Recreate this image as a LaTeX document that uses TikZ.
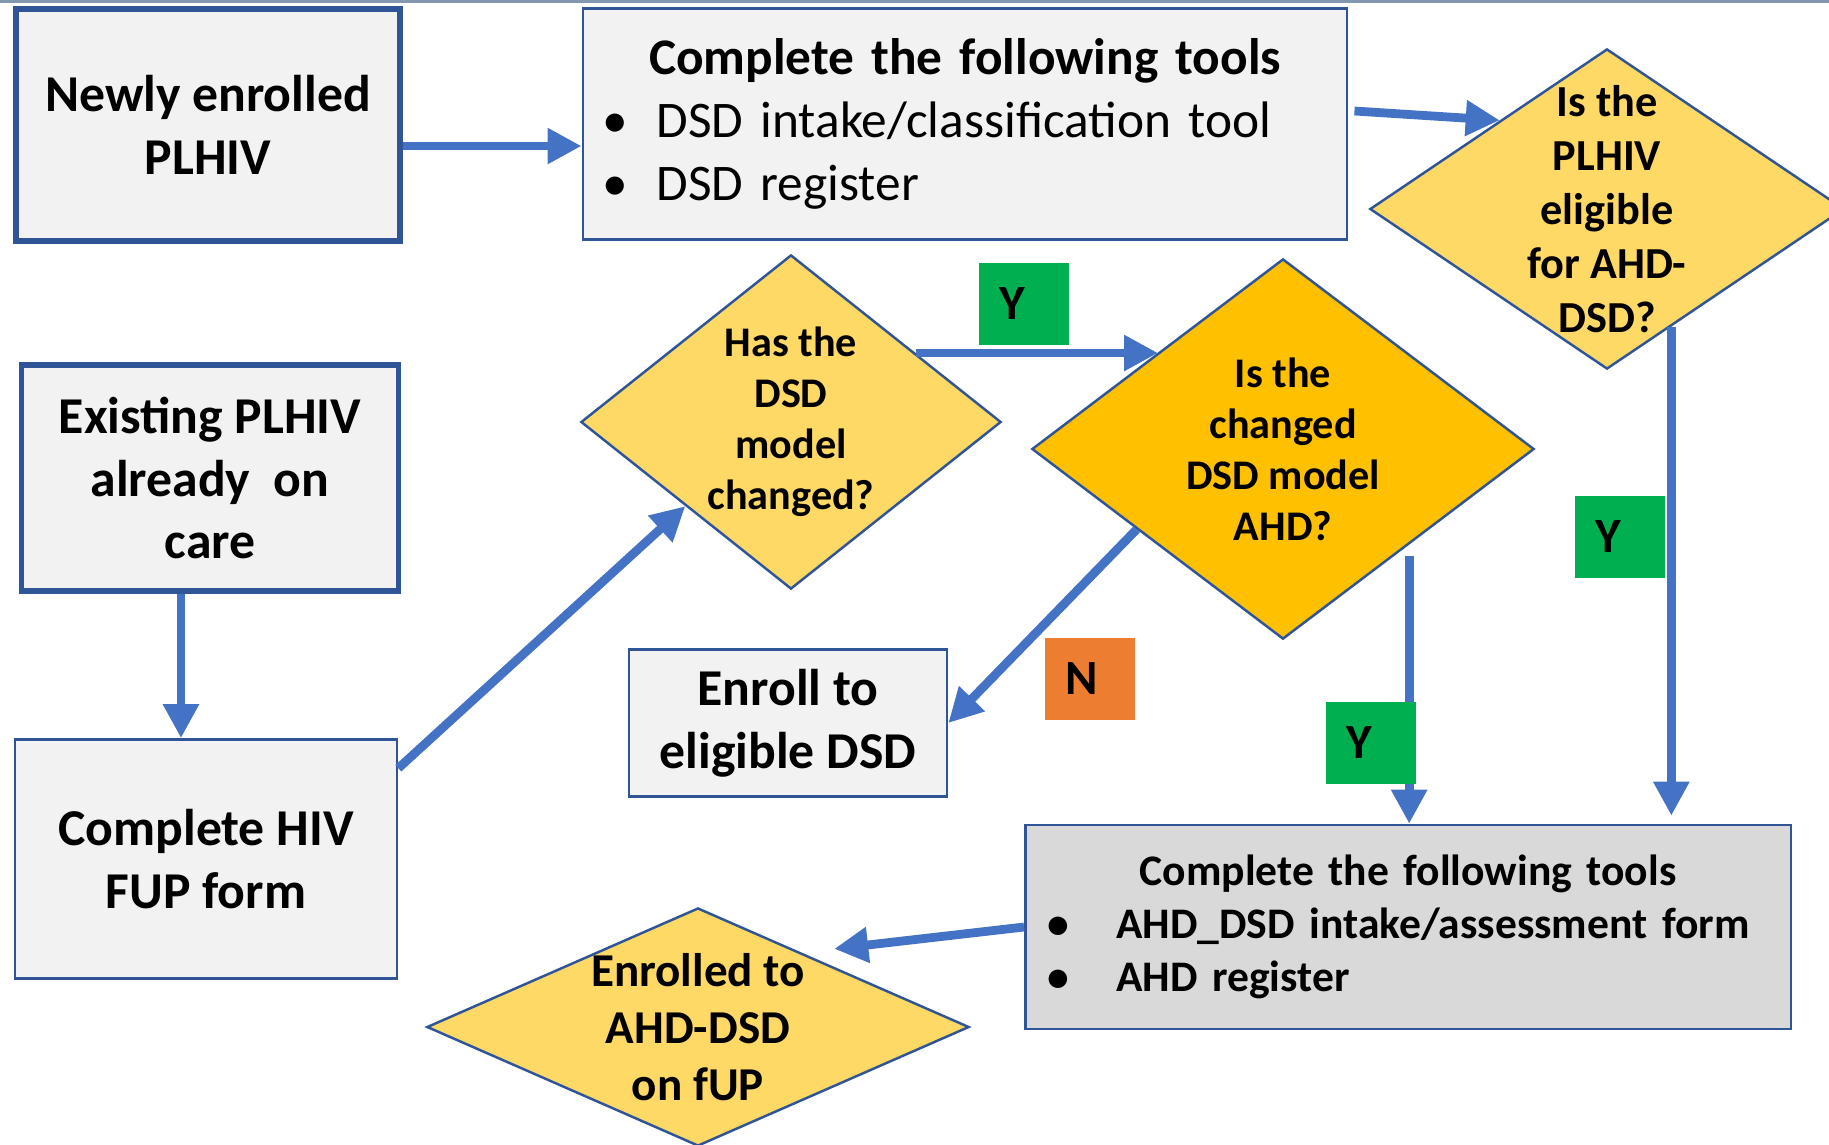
\documentclass[tikz,border=0pt]{standalone}
\usepackage{fontspec}
\setmainfont{Carlito}
\usetikzlibrary{shapes.geometric,arrows.meta,calc}

\definecolor{boxline}{HTML}{2F5597}
\definecolor{flowblue}{HTML}{4472C4}
\definecolor{boxfill}{HTML}{F2F2F2}
\definecolor{greyfill}{HTML}{D9D9D9}
\definecolor{lightq}{HTML}{FFD966}
\definecolor{darkq}{HTML}{FFC000}
\definecolor{yesgreen}{HTML}{00B050}
\definecolor{noorange}{HTML}{ED7D31}
\definecolor{topline}{HTML}{8497B0}

\begin{document}
\begin{tikzpicture}[x=0.01cm, y=-0.01cm,
  start box/.style={draw=boxline, line width=1.6pt, fill=boxfill, inner sep=0pt, align=center, font=\bfseries\fontsize{14.7}{17.9}\selectfont},
  plain box/.style={draw=boxline, line width=0.7pt, fill=boxfill, inner sep=0pt, align=center, font=\bfseries\fontsize{14.7}{17.9}\selectfont},
  ques/.style={diamond, draw=boxline, line width=0.7pt, inner sep=0pt},
  ques text/.style={align=center, inner sep=0pt, font=\bfseries\fontsize{12}{14.5}\selectfont},
  tag/.style={minimum width=0.9cm, minimum height=0.82cm, inner sep=0pt, font=\bfseries\fontsize{14}{17}\selectfont},
  flow/.style={draw=flowblue, line width=2.5pt, -{Triangle[length=0.34cm,width=0.34cm]}}]

  \useasboundingbox (0,0) rectangle (1829,1144);
  \fill[topline] (0,0) rectangle (1829,3);

  % boxes
  \node[start box, minimum width=3.84cm, minimum height=2.32cm] (newly) at (208,125) {Newly enrolled\\PLHIV};
  \node[plain box, minimum width=7.64cm, minimum height=2.31cm, text width=7.64cm, align=left,
        font=\fontsize{14.6}{17.9}\selectfont] (tools) at (965,124)
    {\noindent\makebox[\hsize][c]{\bfseries Complete the following tools}\\
     \hspace*{0.2cm}\makebox[0.54cm][l]{\textbullet}DSD intake/classification tool\\
     \hspace*{0.2cm}\makebox[0.54cm][l]{\textbullet}DSD register};
  \node[start box, minimum width=3.77cm, minimum height=2.26cm] (exist) at (210,478) {Existing PLHIV\\already~~on\\care};
  \node[plain box, minimum width=3.82cm, minimum height=2.39cm] (fup) at (206,859) {Complete HIV\\FUP form};
  \node[plain box, minimum width=3.18cm, minimum height=1.47cm] (enroll) at (788,723) {Enroll to\\eligible DSD};
  \node[plain box, fill=greyfill, minimum width=7.65cm, minimum height=2.04cm, text width=7.65cm, align=left,
        font=\bfseries\fontsize{12.4}{15}\selectfont] (ahdtools) at (1408,927)
    {\noindent\makebox[\hsize][c]{Complete the following tools}\\
     \hspace*{0.22cm}\makebox[0.69cm][l]{\textbullet}AHD\_DSD intake/assessment form\\
     \hspace*{0.22cm}\makebox[0.69cm][l]{\textbullet}AHD register};

  % questions
  \node[ques, fill=lightq, minimum width=4.74cm, minimum height=3.2cm] (elig) at (1607,209) {};
  \node[ques text, font=\bfseries\fontsize{12.6}{15.3}\selectfont] (eligt) at (elig) {Is the\\PLHIV\\eligible\\for AHD-\\DSD?};
  \node[ques, fill=lightq, minimum width=4.2cm, minimum height=3.34cm] (haschg) at (791,422) {};
  \node[ques text] (haschgt) at (haschg) {Has the\\DSD\\model\\changed?};
  \node[ques, fill=darkq, minimum width=5.02cm, minimum height=3.8cm] (isahd) at (1283,449) {};
  \node[ques text] (isahdt) at (isahd) {Is the\\changed\\DSD model\\AHD?};
  \node[ques, fill=lightq, minimum width=5.42cm, minimum height=2.38cm] (enrolled) at (698,1027) {};
  \node[ques text, font=\bfseries\fontsize{13.4}{16.2}\selectfont] (enrolledt) at (enrolled) {Enrolled to\\AHD-DSD\\on fUP};

  % arrows
  \coordinate (newlyout) at ([yshift=-0.21cm]newly.east);
  \draw[flow] (newlyout) -- (newlyout -| tools.west);
  \draw[flow] ([xshift=0.06cm,yshift=0.13cm]tools.east) -- ($(elig.north west)!0.1!(elig.north)$);
  \coordinate (eligout) at ($(elig.south)!0.27!(elig.east)$);
  \coordinate (eligin) at (eligout |- ahdtools.north);
  \draw[flow] (eligout) -- ([yshift=0.08cm]eligin);
  \coordinate (existout) at ([xshift=-0.29cm]exist.south);
  \draw[flow] (existout) -- (existout |- fup.north);
  \draw[flow] ([yshift=-0.3cm]fup.north east) -- (haschg.south west);
  \coordinate (hasout) at ($(haschg.north)!0.59!(haschg.east)$);
  \coordinate (ahdin) at ($(isahd.north)!0.495!(isahd.west)$);
  \draw[flow] (hasout) -- (hasout -| ahdin);
  \draw[flow] ($(isahd.west)!0.42!(isahd.south)$) -- (enroll.east);
  \coordinate (ahdout) at ([yshift=-0.11cm]isahd.south east);
  \draw[flow] (ahdout) -- (ahdout |- ahdtools.north);
  \draw[flow] (ahdtools.west) -- ([yshift=0.18cm]enrolled.north east);

  % answers
  \node[tag, fill=yesgreen] (yes1) at (1024,304) {Y\kern0.24cm};
  \node[tag, fill=noorange] (no1) at (1090,679) {N\kern0.16cm};
  \node[tag, fill=yesgreen] (yes2) at (1620,537) {Y\kern0.24cm};
  \node[tag, fill=yesgreen] (yes3) at (1371,743) {Y\kern0.24cm};
\end{tikzpicture}
\end{document}
